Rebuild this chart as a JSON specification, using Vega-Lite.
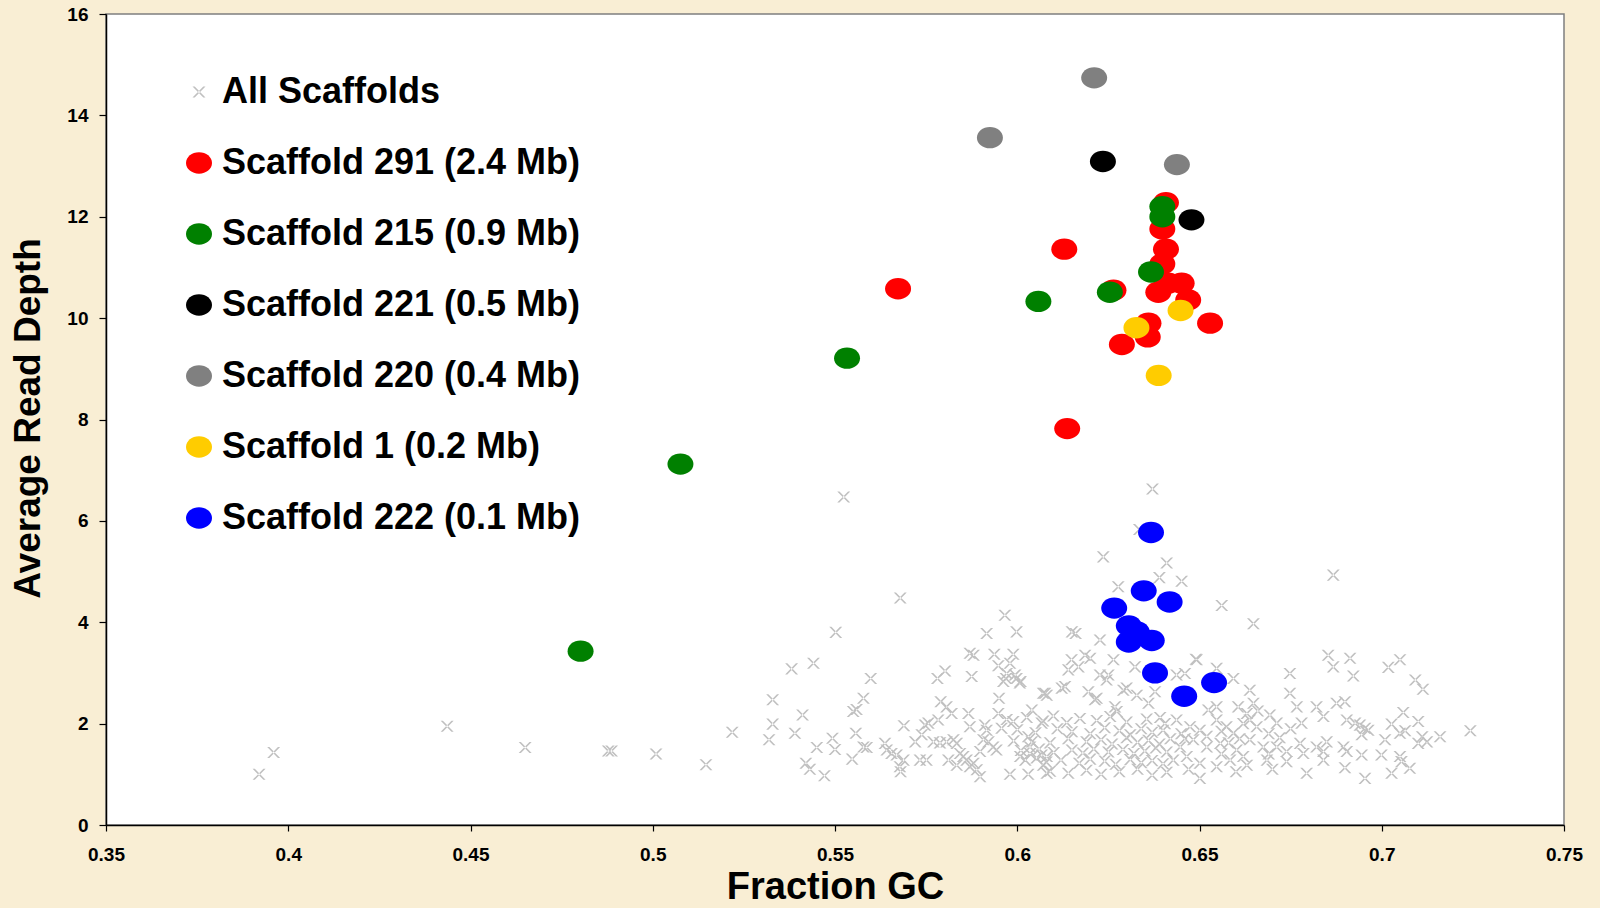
{
  "$schema": "https://vega.github.io/schema/vega-lite/v6.json",
  "autosize": {"type": "none"},
  "width": 1458,
  "height": 811,
  "padding": {"left": 106, "top": 14, "right": 36, "bottom": 83},
  "background": "#f9eed4",
  "config": {
    "view": {"fill": "white", "stroke": "#7f7f7f", "strokeWidth": 1.5},
    "font": "Liberation Sans"
  },
  "data": {"values": [
    {"gc":0.392,"depth":1.00,"series":"All Scaffolds"},{"gc":0.396,"depth":1.43,"series":"All Scaffolds"},{"gc":0.4436,"depth":1.95,"series":"All Scaffolds"},{"gc":0.465,"depth":1.53,"series":"All Scaffolds"},{"gc":0.4878,"depth":1.46,"series":"All Scaffolds"},{"gc":0.4887,"depth":1.46,"series":"All Scaffolds"},{"gc":0.5009,"depth":1.40,"series":"All Scaffolds"},{"gc":0.5146,"depth":1.19,"series":"All Scaffolds"},{"gc":0.5218,"depth":1.83,"series":"All Scaffolds"},{"gc":0.5524,"depth":6.47,"series":"All Scaffolds"},{"gc":0.5679,"depth":4.48,"series":"All Scaffolds"},{"gc":0.5319,"depth":1.68,"series":"All Scaffolds"},{"gc":0.5329,"depth":1.99,"series":"All Scaffolds"},{"gc":0.5329,"depth":2.47,"series":"All Scaffolds"},{"gc":0.5381,"depth":3.08,"series":"All Scaffolds"},{"gc":0.5441,"depth":3.19,"series":"All Scaffolds"},{"gc":0.5502,"depth":3.80,"series":"All Scaffolds"},{"gc":0.539,"depth":1.81,"series":"All Scaffolds"},{"gc":0.5411,"depth":2.17,"series":"All Scaffolds"},{"gc":0.542,"depth":1.22,"series":"All Scaffolds"},{"gc":0.5431,"depth":1.10,"series":"All Scaffolds"},{"gc":0.5471,"depth":0.97,"series":"All Scaffolds"},{"gc":0.545,"depth":1.53,"series":"All Scaffolds"},{"gc":0.5493,"depth":1.71,"series":"All Scaffolds"},{"gc":0.5500,"depth":1.49,"series":"All Scaffolds"},{"gc":0.5547,"depth":1.30,"series":"All Scaffolds"},{"gc":0.5557,"depth":1.81,"series":"All Scaffolds"},{"gc":0.555,"depth":2.24,"series":"All Scaffolds"},{"gc":0.5559,"depth":2.28,"series":"All Scaffolds"},{"gc":0.5578,"depth":2.50,"series":"All Scaffolds"},{"gc":0.5598,"depth":2.89,"series":"All Scaffolds"},{"gc":0.5578,"depth":1.54,"series":"All Scaffolds"},{"gc":0.5587,"depth":1.53,"series":"All Scaffolds"},{"gc":0.5637,"depth":1.61,"series":"All Scaffolds"},{"gc":0.5642,"depth":1.48,"series":"All Scaffolds"},{"gc":0.5655,"depth":1.41,"series":"All Scaffolds"},{"gc":0.5669,"depth":1.38,"series":"All Scaffolds"},{"gc":0.5688,"depth":1.28,"series":"All Scaffolds"},{"gc":0.5678,"depth":1.15,"series":"All Scaffolds"},{"gc":0.5680,"depth":1.05,"series":"All Scaffolds"},{"gc":0.5689,"depth":1.96,"series":"All Scaffolds"},{"gc":0.5720,"depth":1.64,"series":"All Scaffolds"},{"gc":0.5738,"depth":1.78,"series":"All Scaffolds"},{"gc":0.5747,"depth":1.97,"series":"All Scaffolds"},{"gc":0.5756,"depth":2.01,"series":"All Scaffolds"},{"gc":0.5733,"depth":1.28,"series":"All Scaffolds"},{"gc":0.5751,"depth":1.28,"series":"All Scaffolds"},{"gc":0.5781,"depth":2.89,"series":"All Scaffolds"},{"gc":0.5802,"depth":3.04,"series":"All Scaffolds"},{"gc":0.5783,"depth":2.07,"series":"All Scaffolds"},{"gc":0.5790,"depth":2.43,"series":"All Scaffolds"},{"gc":0.5806,"depth":2.33,"series":"All Scaffolds"},{"gc":0.5820,"depth":2.20,"series":"All Scaffolds"},{"gc":0.5770,"depth":1.64,"series":"All Scaffolds"},{"gc":0.5788,"depth":1.62,"series":"All Scaffolds"},{"gc":0.5806,"depth":1.64,"series":"All Scaffolds"},{"gc":0.5825,"depth":1.68,"series":"All Scaffolds"},{"gc":0.5834,"depth":1.61,"series":"All Scaffolds"},{"gc":0.5811,"depth":1.28,"series":"All Scaffolds"},{"gc":0.5843,"depth":1.41,"series":"All Scaffolds"},{"gc":0.5834,"depth":1.18,"series":"All Scaffolds"},{"gc":0.5861,"depth":1.28,"series":"All Scaffolds"},{"gc":0.5870,"depth":1.15,"series":"All Scaffolds"},{"gc":0.5880,"depth":1.22,"series":"All Scaffolds"},{"gc":0.5898,"depth":1.45,"series":"All Scaffolds"},{"gc":0.5898,"depth":0.95,"series":"All Scaffolds"},{"gc":0.5889,"depth":1.09,"series":"All Scaffolds"},{"gc":0.5852,"depth":1.35,"series":"All Scaffolds"},{"gc":0.5870,"depth":3.39,"series":"All Scaffolds"},{"gc":0.5880,"depth":3.35,"series":"All Scaffolds"},{"gc":0.5916,"depth":3.78,"series":"All Scaffolds"},{"gc":0.5875,"depth":2.93,"series":"All Scaffolds"},{"gc":0.5866,"depth":2.20,"series":"All Scaffolds"},{"gc":0.5870,"depth":1.94,"series":"All Scaffolds"},{"gc":0.5911,"depth":1.97,"series":"All Scaffolds"},{"gc":0.5916,"depth":1.87,"series":"All Scaffolds"},{"gc":0.5907,"depth":1.68,"series":"All Scaffolds"},{"gc":0.5921,"depth":1.64,"series":"All Scaffolds"},{"gc":0.5934,"depth":1.54,"series":"All Scaffolds"},{"gc":0.5943,"depth":1.48,"series":"All Scaffolds"},{"gc":0.5957,"depth":1.91,"series":"All Scaffolds"},{"gc":0.5937,"depth":3.37,"series":"All Scaffolds"},{"gc":0.5948,"depth":3.14,"series":"All Scaffolds"},{"gc":0.5962,"depth":2.83,"series":"All Scaffolds"},{"gc":0.5969,"depth":2.89,"series":"All Scaffolds"},{"gc":0.5950,"depth":2.50,"series":"All Scaffolds"},{"gc":0.5948,"depth":2.20,"series":"All Scaffolds"},{"gc":0.5966,"depth":4.14,"series":"All Scaffolds"},{"gc":0.5998,"depth":3.81,"series":"All Scaffolds"},{"gc":0.5989,"depth":3.37,"series":"All Scaffolds"},{"gc":0.5980,"depth":3.19,"series":"All Scaffolds"},{"gc":0.5994,"depth":2.96,"series":"All Scaffolds"},{"gc":0.6009,"depth":2.83,"series":"All Scaffolds"},{"gc":0.5980,"depth":1.00,"series":"All Scaffolds"},{"gc":0.6030,"depth":1.00,"series":"All Scaffolds"},{"gc":0.5989,"depth":2.04,"series":"All Scaffolds"},{"gc":0.6040,"depth":2.27,"series":"All Scaffolds"},{"gc":0.6071,"depth":2.60,"series":"All Scaffolds"},{"gc":0.6081,"depth":2.56,"series":"All Scaffolds"},{"gc":0.6067,"depth":2.01,"series":"All Scaffolds"},{"gc":0.6071,"depth":1.18,"series":"All Scaffolds"},{"gc":0.6081,"depth":1.02,"series":"All Scaffolds"},{"gc":0.6008,"depth":1.35,"series":"All Scaffolds"},{"gc":0.6022,"depth":1.28,"series":"All Scaffolds"},{"gc":0.6035,"depth":1.41,"series":"All Scaffolds"},{"gc":0.6053,"depth":1.32,"series":"All Scaffolds"},{"gc":0.6067,"depth":1.38,"series":"All Scaffolds"},{"gc":0.6081,"depth":1.35,"series":"All Scaffolds"},{"gc":0.6030,"depth":1.74,"series":"All Scaffolds"},{"gc":0.6040,"depth":1.64,"series":"All Scaffolds"},{"gc":0.6035,"depth":1.54,"series":"All Scaffolds"},
    {"gc":0.6371,"depth":6.63,"series":"All Scaffolds"},{"gc":0.6236,"depth":5.29,"series":"All Scaffolds"},{"gc":0.6410,"depth":5.17,"series":"All Scaffolds"},{"gc":0.6390,"depth":4.88,"series":"All Scaffolds"},{"gc":0.6451,"depth":4.81,"series":"All Scaffolds"},{"gc":0.6277,"depth":4.70,"series":"All Scaffolds"},{"gc":0.6561,"depth":4.33,"series":"All Scaffolds"},{"gc":0.6648,"depth":3.97,"series":"All Scaffolds"},{"gc":0.6335,"depth":5.83,"series":"All Scaffolds"},{"gc":0.6150,"depth":3.81,"series":"All Scaffolds"},{"gc":0.6160,"depth":3.78,"series":"All Scaffolds"},{"gc":0.6227,"depth":3.65,"series":"All Scaffolds"},{"gc":0.6490,"depth":3.27,"series":"All Scaffolds"},{"gc":0.6547,"depth":3.09,"series":"All Scaffolds"},{"gc":0.6593,"depth":2.89,"series":"All Scaffolds"},{"gc":0.6748,"depth":2.99,"series":"All Scaffolds"},{"gc":0.5971,"depth":2.99,"series":"All Scaffolds"},{"gc":0.5998,"depth":2.89,"series":"All Scaffolds"},{"gc":0.6007,"depth":2.80,"series":"All Scaffolds"},{"gc":0.6149,"depth":3.26,"series":"All Scaffolds"},{"gc":0.6168,"depth":3.12,"series":"All Scaffolds"},{"gc":0.6140,"depth":3.06,"series":"All Scaffolds"},{"gc":0.6186,"depth":3.35,"series":"All Scaffolds"},{"gc":0.6200,"depth":3.29,"series":"All Scaffolds"},{"gc":0.6227,"depth":2.96,"series":"All Scaffolds"},{"gc":0.6250,"depth":2.96,"series":"All Scaffolds"},{"gc":0.6245,"depth":2.86,"series":"All Scaffolds"},{"gc":0.6264,"depth":3.26,"series":"All Scaffolds"},{"gc":0.6076,"depth":2.60,"series":"All Scaffolds"},{"gc":0.6122,"depth":2.70,"series":"All Scaffolds"},{"gc":0.6131,"depth":2.73,"series":"All Scaffolds"},{"gc":0.6195,"depth":2.63,"series":"All Scaffolds"},{"gc":0.6218,"depth":2.50,"series":"All Scaffolds"},{"gc":0.6213,"depth":2.47,"series":"All Scaffolds"},{"gc":0.6291,"depth":2.66,"series":"All Scaffolds"},{"gc":0.6300,"depth":2.70,"series":"All Scaffolds"},{"gc":0.6268,"depth":2.33,"series":"All Scaffolds"},{"gc":0.6273,"depth":2.24,"series":"All Scaffolds"},{"gc":0.6360,"depth":2.40,"series":"All Scaffolds"},{"gc":0.6378,"depth":2.63,"series":"All Scaffolds"},{"gc":0.6323,"depth":3.12,"series":"All Scaffolds"},{"gc":0.6328,"depth":2.56,"series":"All Scaffolds"},
    {"gc":0.5971,"depth":2.08,"series":"All Scaffolds"},{"gc":0.6026,"depth":2.12,"series":"All Scaffolds"},{"gc":0.6071,"depth":2.05,"series":"All Scaffolds"},{"gc":0.6099,"depth":2.15,"series":"All Scaffolds"},{"gc":0.6136,"depth":2.02,"series":"All Scaffolds"},{"gc":0.6172,"depth":2.10,"series":"All Scaffolds"},{"gc":0.6218,"depth":2.06,"series":"All Scaffolds"},{"gc":0.6255,"depth":2.14,"series":"All Scaffolds"},{"gc":0.6300,"depth":2.03,"series":"All Scaffolds"},{"gc":0.6355,"depth":2.09,"series":"All Scaffolds"},{"gc":0.6392,"depth":2.12,"series":"All Scaffolds"},{"gc":0.6405,"depth":2.00,"series":"All Scaffolds"},
    {"gc":0.6000,"depth":1.88,"series":"All Scaffolds"},{"gc":0.6050,"depth":1.82,"series":"All Scaffolds"},{"gc":0.6110,"depth":1.90,"series":"All Scaffolds"},{"gc":0.6150,"depth":1.84,"series":"All Scaffolds"},{"gc":0.6200,"depth":1.80,"series":"All Scaffolds"},{"gc":0.6240,"depth":1.92,"series":"All Scaffolds"},{"gc":0.6280,"depth":1.86,"series":"All Scaffolds"},{"gc":0.6310,"depth":1.78,"series":"All Scaffolds"},{"gc":0.6340,"depth":1.90,"series":"All Scaffolds"},{"gc":0.6370,"depth":1.83,"series":"All Scaffolds"},{"gc":0.6400,"depth":1.87,"series":"All Scaffolds"},
    {"gc":0.5990,"depth":1.66,"series":"All Scaffolds"},{"gc":0.6090,"depth":1.62,"series":"All Scaffolds"},{"gc":0.6140,"depth":1.70,"series":"All Scaffolds"},{"gc":0.6190,"depth":1.64,"series":"All Scaffolds"},{"gc":0.6230,"depth":1.68,"series":"All Scaffolds"},{"gc":0.6260,"depth":1.60,"series":"All Scaffolds"},{"gc":0.6300,"depth":1.72,"series":"All Scaffolds"},{"gc":0.6330,"depth":1.63,"series":"All Scaffolds"},{"gc":0.6360,"depth":1.67,"series":"All Scaffolds"},{"gc":0.6390,"depth":1.60,"series":"All Scaffolds"},{"gc":0.6420,"depth":1.70,"series":"All Scaffolds"},
    {"gc":0.6010,"depth":1.47,"series":"All Scaffolds"},{"gc":0.6060,"depth":1.50,"series":"All Scaffolds"},{"gc":0.6100,"depth":1.43,"series":"All Scaffolds"},{"gc":0.6150,"depth":1.48,"series":"All Scaffolds"},{"gc":0.6180,"depth":1.42,"series":"All Scaffolds"},{"gc":0.6210,"depth":1.50,"series":"All Scaffolds"},{"gc":0.6250,"depth":1.44,"series":"All Scaffolds"},{"gc":0.6290,"depth":1.49,"series":"All Scaffolds"},{"gc":0.6320,"depth":1.41,"series":"All Scaffolds"},{"gc":0.6350,"depth":1.46,"series":"All Scaffolds"},{"gc":0.6380,"depth":1.52,"series":"All Scaffolds"},{"gc":0.6410,"depth":1.44,"series":"All Scaffolds"},
    {"gc":0.6080,"depth":1.24,"series":"All Scaffolds"},{"gc":0.6120,"depth":1.28,"series":"All Scaffolds"},{"gc":0.6170,"depth":1.22,"series":"All Scaffolds"},{"gc":0.6200,"depth":1.30,"series":"All Scaffolds"},{"gc":0.6240,"depth":1.26,"series":"All Scaffolds"},{"gc":0.6270,"depth":1.20,"series":"All Scaffolds"},{"gc":0.6310,"depth":1.29,"series":"All Scaffolds"},{"gc":0.6340,"depth":1.23,"series":"All Scaffolds"},{"gc":0.6370,"depth":1.27,"series":"All Scaffolds"},{"gc":0.6400,"depth":1.21,"series":"All Scaffolds"},
    {"gc":0.6090,"depth":1.06,"series":"All Scaffolds"},{"gc":0.6140,"depth":1.02,"series":"All Scaffolds"},{"gc":0.6190,"depth":1.08,"series":"All Scaffolds"},{"gc":0.6230,"depth":1.00,"series":"All Scaffolds"},{"gc":0.6280,"depth":1.05,"series":"All Scaffolds"},{"gc":0.6330,"depth":1.10,"series":"All Scaffolds"},{"gc":0.6370,"depth":0.98,"series":"All Scaffolds"},{"gc":0.6410,"depth":1.04,"series":"All Scaffolds"},
    {"gc":0.6867,"depth":4.93,"series":"All Scaffolds"},{"gc":0.6853,"depth":3.35,"series":"All Scaffolds"},{"gc":0.6867,"depth":3.12,"series":"All Scaffolds"},{"gc":0.6492,"depth":3.26,"series":"All Scaffolds"},{"gc":0.6437,"depth":2.96,"series":"All Scaffolds"},{"gc":0.6460,"depth":2.99,"series":"All Scaffolds"},{"gc":0.6638,"depth":2.66,"series":"All Scaffolds"},{"gc":0.6748,"depth":2.60,"series":"All Scaffolds"},{"gc":0.6648,"depth":2.40,"series":"All Scaffolds"},{"gc":0.6606,"depth":2.33,"series":"All Scaffolds"},{"gc":0.6547,"depth":2.33,"series":"All Scaffolds"},{"gc":0.6524,"depth":2.27,"series":"All Scaffolds"},{"gc":0.6767,"depth":2.33,"series":"All Scaffolds"},{"gc":0.6821,"depth":2.33,"series":"All Scaffolds"},{"gc":0.6840,"depth":2.14,"series":"All Scaffolds"},{"gc":0.6876,"depth":2.40,"series":"All Scaffolds"},{"gc":0.6693,"depth":2.17,"series":"All Scaffolds"},{"gc":0.6712,"depth":2.01,"series":"All Scaffolds"},{"gc":0.6638,"depth":2.07,"series":"All Scaffolds"},{"gc":0.6657,"depth":1.94,"series":"All Scaffolds"},{"gc":0.6780,"depth":2.01,"series":"All Scaffolds"},{"gc":0.6437,"depth":2.07,"series":"All Scaffolds"},{"gc":0.6474,"depth":1.94,"series":"All Scaffolds"},{"gc":0.6501,"depth":1.87,"series":"All Scaffolds"},{"gc":0.6574,"depth":1.94,"series":"All Scaffolds"},{"gc":0.6593,"depth":1.81,"series":"All Scaffolds"},{"gc":0.6547,"depth":2.07,"series":"All Scaffolds"},{"gc":0.6447,"depth":1.54,"series":"All Scaffolds"},{"gc":0.6483,"depth":1.68,"series":"All Scaffolds"},{"gc":0.6520,"depth":1.54,"series":"All Scaffolds"},{"gc":0.6557,"depth":1.61,"series":"All Scaffolds"},{"gc":0.6602,"depth":1.48,"series":"All Scaffolds"},{"gc":0.6638,"depth":1.68,"series":"All Scaffolds"},{"gc":0.6675,"depth":1.54,"series":"All Scaffolds"},{"gc":0.6712,"depth":1.54,"series":"All Scaffolds"},{"gc":0.6739,"depth":1.45,"series":"All Scaffolds"},{"gc":0.6776,"depth":1.61,"series":"All Scaffolds"},{"gc":0.6785,"depth":1.41,"series":"All Scaffolds"},{"gc":0.6821,"depth":1.54,"series":"All Scaffolds"},{"gc":0.6849,"depth":1.64,"series":"All Scaffolds"},{"gc":0.6428,"depth":1.28,"series":"All Scaffolds"},{"gc":0.6465,"depth":1.35,"series":"All Scaffolds"},{"gc":0.6501,"depth":1.22,"series":"All Scaffolds"},{"gc":0.6547,"depth":1.15,"series":"All Scaffolds"},{"gc":0.6584,"depth":1.28,"series":"All Scaffolds"},{"gc":0.6630,"depth":1.18,"series":"All Scaffolds"},{"gc":0.6685,"depth":1.28,"series":"All Scaffolds"},{"gc":0.6739,"depth":1.25,"series":"All Scaffolds"},{"gc":0.6794,"depth":1.02,"series":"All Scaffolds"},{"gc":0.6840,"depth":1.28,"series":"All Scaffolds"},{"gc":0.6840,"depth":1.45,"series":"All Scaffolds"},{"gc":0.6501,"depth":0.92,"series":"All Scaffolds"},
    {"gc":0.6450,"depth":1.80,"series":"All Scaffolds"},{"gc":0.6460,"depth":1.70,"series":"All Scaffolds"},{"gc":0.6520,"depth":1.75,"series":"All Scaffolds"},{"gc":0.6560,"depth":1.85,"series":"All Scaffolds"},{"gc":0.6620,"depth":2.00,"series":"All Scaffolds"},{"gc":0.6580,"depth":1.62,"series":"All Scaffolds"},{"gc":0.6610,"depth":1.70,"series":"All Scaffolds"},{"gc":0.6690,"depth":1.80,"series":"All Scaffolds"},{"gc":0.6720,"depth":1.72,"series":"All Scaffolds"},{"gc":0.6750,"depth":1.90,"series":"All Scaffolds"},{"gc":0.6690,"depth":1.40,"series":"All Scaffolds"},{"gc":0.6620,"depth":1.35,"series":"All Scaffolds"},{"gc":0.6560,"depth":1.40,"series":"All Scaffolds"},{"gc":0.6470,"depth":1.10,"series":"All Scaffolds"},{"gc":0.6600,"depth":1.05,"series":"All Scaffolds"},{"gc":0.6700,"depth":1.10,"series":"All Scaffolds"},{"gc":0.6630,"depth":2.20,"series":"All Scaffolds"},{"gc":0.6660,"depth":2.25,"series":"All Scaffolds"},
    {"gc":0.6913,"depth":3.29,"series":"All Scaffolds"},{"gc":0.7050,"depth":3.26,"series":"All Scaffolds"},{"gc":0.7018,"depth":3.11,"series":"All Scaffolds"},{"gc":0.6922,"depth":2.94,"series":"All Scaffolds"},{"gc":0.7092,"depth":2.86,"series":"All Scaffolds"},{"gc":0.7113,"depth":2.68,"series":"All Scaffolds"},{"gc":0.6899,"depth":2.43,"series":"All Scaffolds"},{"gc":0.7059,"depth":2.22,"series":"All Scaffolds"},{"gc":0.7100,"depth":2.04,"series":"All Scaffolds"},{"gc":0.7027,"depth":1.99,"series":"All Scaffolds"},{"gc":0.6904,"depth":2.07,"series":"All Scaffolds"},{"gc":0.6927,"depth":2.01,"series":"All Scaffolds"},{"gc":0.6940,"depth":1.97,"series":"All Scaffolds"},{"gc":0.6954,"depth":1.91,"series":"All Scaffolds"},{"gc":0.6963,"depth":1.87,"series":"All Scaffolds"},{"gc":0.6945,"depth":1.78,"series":"All Scaffolds"},{"gc":0.7050,"depth":1.81,"series":"All Scaffolds"},{"gc":0.7064,"depth":1.86,"series":"All Scaffolds"},{"gc":0.7009,"depth":1.68,"series":"All Scaffolds"},{"gc":0.7111,"depth":1.74,"series":"All Scaffolds"},{"gc":0.7124,"depth":1.64,"series":"All Scaffolds"},{"gc":0.7100,"depth":1.61,"series":"All Scaffolds"},{"gc":0.7160,"depth":1.74,"series":"All Scaffolds"},{"gc":0.7243,"depth":1.86,"series":"All Scaffolds"},{"gc":0.6895,"depth":1.54,"series":"All Scaffolds"},{"gc":0.6904,"depth":1.45,"series":"All Scaffolds"},{"gc":0.6945,"depth":1.38,"series":"All Scaffolds"},{"gc":0.6999,"depth":1.38,"series":"All Scaffolds"},{"gc":0.7050,"depth":1.35,"series":"All Scaffolds"},{"gc":0.7054,"depth":1.25,"series":"All Scaffolds"},{"gc":0.7077,"depth":1.12,"series":"All Scaffolds"},{"gc":0.6899,"depth":1.13,"series":"All Scaffolds"},{"gc":0.6954,"depth":0.92,"series":"All Scaffolds"},{"gc":0.7027,"depth":1.02,"series":"All Scaffolds"},
    {"gc":0.6408,"depth":12.28,"series":"Scaffold 291 (2.4 Mb)"},{"gc":0.6398,"depth":11.76,"series":"Scaffold 291 (2.4 Mb)"},{"gc":0.6129,"depth":11.36,"series":"Scaffold 291 (2.4 Mb)"},{"gc":0.6408,"depth":11.36,"series":"Scaffold 291 (2.4 Mb)"},{"gc":0.6398,"depth":11.07,"series":"Scaffold 291 (2.4 Mb)"},{"gc":0.6414,"depth":10.69,"series":"Scaffold 291 (2.4 Mb)"},{"gc":0.6451,"depth":10.69,"series":"Scaffold 291 (2.4 Mb)"},{"gc":0.6387,"depth":10.51,"series":"Scaffold 291 (2.4 Mb)"},{"gc":0.6469,"depth":10.36,"series":"Scaffold 291 (2.4 Mb)"},{"gc":0.6264,"depth":10.55,"series":"Scaffold 291 (2.4 Mb)"},{"gc":0.6529,"depth":9.90,"series":"Scaffold 291 (2.4 Mb)"},{"gc":0.6360,"depth":9.90,"series":"Scaffold 291 (2.4 Mb)"},{"gc":0.6358,"depth":9.63,"series":"Scaffold 291 (2.4 Mb)"},{"gc":0.6287,"depth":9.48,"series":"Scaffold 291 (2.4 Mb)"},{"gc":0.5673,"depth":10.58,"series":"Scaffold 291 (2.4 Mb)"},{"gc":0.6137,"depth":7.82,"series":"Scaffold 291 (2.4 Mb)"},
    {"gc":0.6398,"depth":12.20,"series":"Scaffold 215 (0.9 Mb)"},{"gc":0.6398,"depth":12.00,"series":"Scaffold 215 (0.9 Mb)"},{"gc":0.6367,"depth":10.91,"series":"Scaffold 215 (0.9 Mb)"},{"gc":0.6058,"depth":10.33,"series":"Scaffold 215 (0.9 Mb)"},{"gc":0.6254,"depth":10.51,"series":"Scaffold 215 (0.9 Mb)"},{"gc":0.5533,"depth":9.21,"series":"Scaffold 215 (0.9 Mb)"},{"gc":0.5076,"depth":7.12,"series":"Scaffold 215 (0.9 Mb)"},{"gc":0.4802,"depth":3.43,"series":"Scaffold 215 (0.9 Mb)"},
    {"gc":0.6235,"depth":13.09,"series":"Scaffold 221 (0.5 Mb)"},{"gc":0.6478,"depth":11.94,"series":"Scaffold 221 (0.5 Mb)"},
    {"gc":0.6211,"depth":14.74,"series":"Scaffold 220 (0.4 Mb)"},{"gc":0.5925,"depth":13.56,"series":"Scaffold 220 (0.4 Mb)"},{"gc":0.6438,"depth":13.03,"series":"Scaffold 220 (0.4 Mb)"},
    {"gc":0.6448,"depth":10.15,"series":"Scaffold 1 (0.2 Mb)"},{"gc":0.6327,"depth":9.81,"series":"Scaffold 1 (0.2 Mb)"},{"gc":0.6388,"depth":8.87,"series":"Scaffold 1 (0.2 Mb)"},
    {"gc":0.6367,"depth":5.77,"series":"Scaffold 222 (0.1 Mb)"},{"gc":0.6347,"depth":4.62,"series":"Scaffold 222 (0.1 Mb)"},{"gc":0.6418,"depth":4.40,"series":"Scaffold 222 (0.1 Mb)"},{"gc":0.6266,"depth":4.28,"series":"Scaffold 222 (0.1 Mb)"},{"gc":0.6306,"depth":3.93,"series":"Scaffold 222 (0.1 Mb)"},{"gc":0.6328,"depth":3.81,"series":"Scaffold 222 (0.1 Mb)"},{"gc":0.6306,"depth":3.61,"series":"Scaffold 222 (0.1 Mb)"},{"gc":0.6369,"depth":3.64,"series":"Scaffold 222 (0.1 Mb)"},{"gc":0.6378,"depth":3.00,"series":"Scaffold 222 (0.1 Mb)"},{"gc":0.6458,"depth":2.54,"series":"Scaffold 222 (0.1 Mb)"},{"gc":0.6540,"depth":2.81,"series":"Scaffold 222 (0.1 Mb)"}
  ]},
  "mark": {"type": "point", "filled": true, "opacity": 1, "strokeWidth": 0},
  "encoding": {
    "x": {
      "field": "gc", "type": "quantitative",
      "scale": {"domain": [0.35, 0.75], "nice": false, "zero": false},
      "axis": {
        "title": "Fraction GC", "values": [0.35,0.4,0.45,0.5,0.55,0.6,0.65,0.7,0.75], "format": "~g",
        "grid": false, "domainColor": "#000000", "domainWidth": 1.5, "tickColor": "#000000", "tickSize": 6, "tickWidth": 1.2,
        "labelFont": "Liberation Sans", "labelFontSize": 19, "labelFontWeight": "bold", "labelColor": "#000000", "labelPadding": 14,
        "labelFlush": false,
        "titleFont": "Liberation Sans", "titleFontSize": 38, "titleFontWeight": "bold", "titleColor": "#000000",
        "titleBaseline": "alphabetic", "titleY": 73
      }
    },
    "y": {
      "field": "depth", "type": "quantitative",
      "scale": {"domain": [0, 16], "nice": false},
      "axis": {
        "title": "Average Read Depth", "values": [0,2,4,6,8,10,12,14,16],
        "grid": false, "domainColor": "#000000", "domainWidth": 1.5, "tickColor": "#000000", "tickSize": 7, "tickWidth": 1.2,
        "labelFont": "Liberation Sans", "labelFontSize": 19, "labelFontWeight": "bold", "labelColor": "#000000", "labelPadding": 11,
        "labelFlush": false,
        "titleFont": "Liberation Sans", "titleFontSize": 37, "titleFontWeight": "bold", "titleColor": "#000000",
        "titleAngle": -90, "titleAlign": "center", "titleBaseline": "alphabetic", "titleX": -67, "titleY": 404
      }
    },
    "color": {
      "field": "series", "type": "nominal",
      "scale": {
        "domain": ["All Scaffolds","Scaffold 291 (2.4 Mb)","Scaffold 215 (0.9 Mb)","Scaffold 221 (0.5 Mb)","Scaffold 220 (0.4 Mb)","Scaffold 1 (0.2 Mb)","Scaffold 222 (0.1 Mb)"],
        "range": ["#c0c0c0","#ff0000","#008000","#000000","#808080","#ffcc00","#0000ff"]
      },
      "legend": {
        "title": null, "orient": "none", "legendX": 75, "legendY": 60, "direction": "vertical",
        "padding": 0, "rowPadding": 35, "labelOffset": 5,
        "labelFont": "Liberation Sans", "labelFontSize": 36, "labelFontWeight": "bold", "labelColor": "#000000", "labelLimit": 0,
        "symbolStrokeWidth": 0, "symbolOpacity": 1
      }
    },
    "shape": {
      "field": "series", "type": "nominal",
      "scale": {
        "domain": ["All Scaffolds","Scaffold 291 (2.4 Mb)","Scaffold 215 (0.9 Mb)","Scaffold 221 (0.5 Mb)","Scaffold 220 (0.4 Mb)","Scaffold 1 (0.2 Mb)","Scaffold 222 (0.1 Mb)"],
        "range": [
          "M-1,-0.85L-0.66,-0.85L1,0.85L0.66,0.85ZM1,-0.85L0.66,-0.85L-1,0.85L-0.66,0.85Z",
          "M-1,0C-1,-0.453,-0.552,-0.82,0,-0.82C0.552,-0.82,1,-0.453,1,0C1,0.453,0.552,0.82,0,0.82C-0.552,0.82,-1,0.453,-1,0Z",
          "M-1,0C-1,-0.453,-0.552,-0.82,0,-0.82C0.552,-0.82,1,-0.453,1,0C1,0.453,0.552,0.82,0,0.82C-0.552,0.82,-1,0.453,-1,0Z",
          "M-1,0C-1,-0.453,-0.552,-0.82,0,-0.82C0.552,-0.82,1,-0.453,1,0C1,0.453,0.552,0.82,0,0.82C-0.552,0.82,-1,0.453,-1,0Z",
          "M-1,0C-1,-0.453,-0.552,-0.82,0,-0.82C0.552,-0.82,1,-0.453,1,0C1,0.453,0.552,0.82,0,0.82C-0.552,0.82,-1,0.453,-1,0Z",
          "M-1,0C-1,-0.453,-0.552,-0.82,0,-0.82C0.552,-0.82,1,-0.453,1,0C1,0.453,0.552,0.82,0,0.82C-0.552,0.82,-1,0.453,-1,0Z",
          "M-1,0C-1,-0.453,-0.552,-0.82,0,-0.82C0.552,-0.82,1,-0.453,1,0C1,0.453,0.552,0.82,0,0.82C-0.552,0.82,-1,0.453,-1,0Z"
        ]
      }
    },
    "size": {
      "field": "series", "type": "nominal",
      "scale": {
        "type": "ordinal",
        "domain": ["All Scaffolds","Scaffold 291 (2.4 Mb)","Scaffold 215 (0.9 Mb)","Scaffold 221 (0.5 Mb)","Scaffold 220 (0.4 Mb)","Scaffold 1 (0.2 Mb)","Scaffold 222 (0.1 Mb)"],
        "range": [169, 676, 676, 676, 676, 676, 676]
      }
    }
  }
}
